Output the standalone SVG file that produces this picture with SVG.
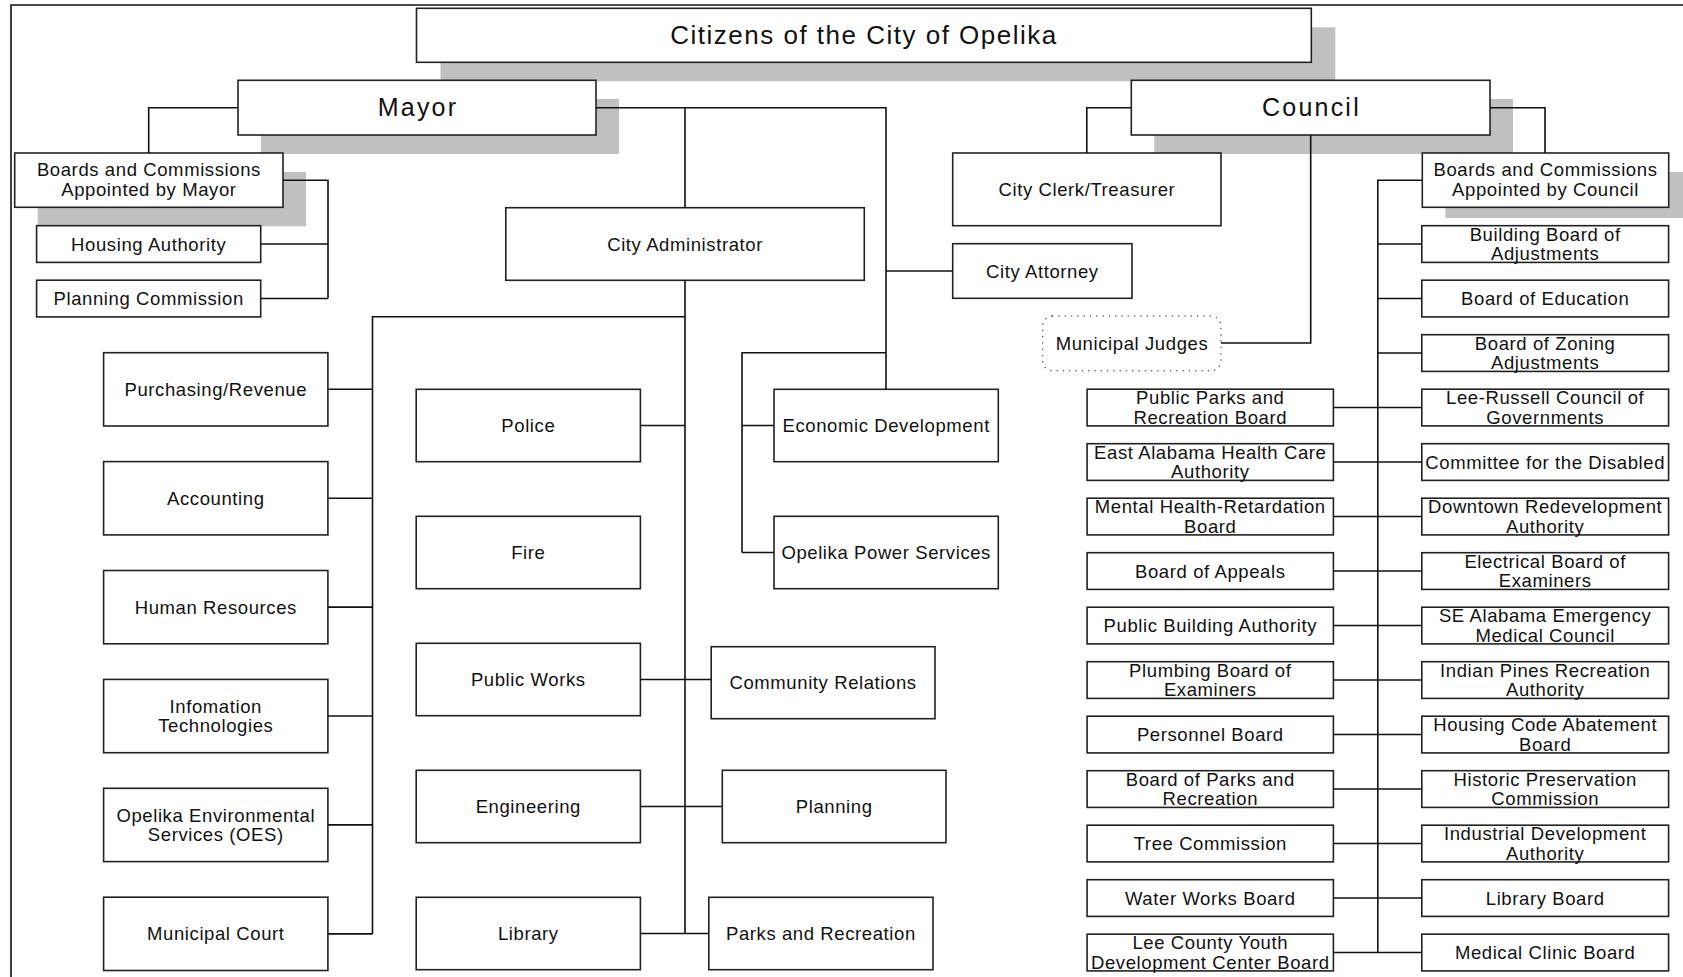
<svg xmlns="http://www.w3.org/2000/svg" width="1683" height="977" viewBox="0 0 1683 977">
<style>
.box{fill:#fff;stroke:#222;stroke-width:1.6}
.sh{fill:#c0c0c0}
.ln{fill:none;stroke:#111;stroke-width:1.6}
.dot{fill:#fff;stroke:#555;stroke-width:1.5;stroke-dasharray:0.1 6.2;stroke-linecap:round}
text{font-family:"Liberation Sans",Arial,sans-serif;fill:#111;text-anchor:middle}
.t{font-size:18.5px;letter-spacing:0.6px}
.big{font-size:25px;letter-spacing:2.2px}
.ttl{font-size:26px;letter-spacing:1.5px}
</style>
<rect width="1683" height="977" fill="#fff"/>
<path class="ln" d="M11,977 V5 H1683"/>
<g id="title">
<rect class="sh" x="440.5" y="27.3" width="894.8" height="54"/>
<rect class="box" x="416.5" y="8.3" width="894.8" height="54"/>
<text class="ttl" x="864" y="44">Citizens of the City of Opelika</text>
</g>
<g id="mayor">
<rect class="sh" x="261" y="99" width="358" height="55"/>
<rect class="box" x="238" y="80.3" width="358" height="54.7"/>
<text class="big" x="418" y="116.3">Mayor</text>
</g>
<g id="council">
<rect class="sh" x="1154.3" y="99" width="358.7" height="55"/>
<rect class="box" x="1131.3" y="80.3" width="358.7" height="54.7"/>
<text class="big" x="1311.5" y="116.3">Council</text>
</g>
<g id="bc-mayor">
<rect class="sh" x="37.7" y="172" width="268.3" height="54.3"/>
<rect class="box" x="14.7" y="153" width="268.3" height="54.3"/>
<text class="t" x="148.9" y="176">Boards and Commissions</text>
<text class="t" x="148.9" y="196">Appointed by Mayor</text>
</g>
<g id="bc-council">
<rect class="sh" x="1445.3" y="172" width="246.4" height="46"/>
<rect class="box" x="1422.3" y="153" width="246.4" height="54.3"/>
<text class="t" x="1545.5" y="176">Boards and Commissions</text>
<text class="t" x="1545.5" y="196">Appointed by Council</text>
</g>
<g id="housing-authority"><rect class="box" x="36.6" y="225.7" width="224.1" height="36.7"/><text class="t" x="148.7" y="250.6">Housing Authority</text></g>
<g id="planning-commission"><rect class="box" x="36.6" y="280.2" width="224.1" height="36.7"/><text class="t" x="148.7" y="305.1">Planning Commission</text></g>
<g id="city-clerk"><rect class="box" x="952.7" y="153" width="268.3" height="72.7"/><text class="t" x="1086.9" y="196">City Clerk/Treasurer</text></g>
<g id="city-administrator"><rect class="box" x="505.8" y="207.7" width="358.5" height="72.6"/><text class="t" x="685.1" y="250.5">City Administrator</text></g>
<g id="city-attorney"><rect class="box" x="952.7" y="243.7" width="179.3" height="54.6"/><text class="t" x="1042.4" y="277.5">City Attorney</text></g>
<g id="municipal-judges"><rect class="dot" x="1042.7" y="316" width="178.3" height="54.7" rx="10"/><text class="t" x="1132" y="350">Municipal Judges</text></g>

<g id="purchasing"><rect class="box" x="103.6" y="352.7" width="224.3" height="73.3"/><text class="t" x="215.8" y="395.9">Purchasing/Revenue</text></g>
<g id="accounting"><rect class="box" x="103.6" y="461.6" width="224.3" height="73.3"/><text class="t" x="215.8" y="504.8">Accounting</text></g>
<g id="human-resources"><rect class="box" x="103.6" y="570.5" width="224.3" height="73.3"/><text class="t" x="215.8" y="613.7">Human Resources</text></g>
<g id="it"><rect class="box" x="103.6" y="679.4" width="224.3" height="73.3"/><text class="t" x="215.8" y="712.5">Infomation</text><text class="t" x="215.8" y="732">Technologies</text></g>
<g id="oes"><rect class="box" x="103.6" y="788.3" width="224.3" height="73.3"/><text class="t" x="215.8" y="821.5">Opelika Environmental</text><text class="t" x="215.8" y="841">Services (OES)</text></g>
<g id="municipal-court"><rect class="box" x="103.6" y="897.2" width="224.3" height="73.3"/><text class="t" x="215.8" y="940.4">Municipal Court</text></g>

<g id="police"><rect class="box" x="416.2" y="389.3" width="224.2" height="72.4"/><text class="t" x="528.3" y="432">Police</text></g>
<g id="fire"><rect class="box" x="416.2" y="516.3" width="224.2" height="72.4"/><text class="t" x="528.3" y="559">Fire</text></g>
<g id="public-works"><rect class="box" x="416.2" y="643.3" width="224.2" height="72.4"/><text class="t" x="528.3" y="686">Public Works</text></g>
<g id="engineering"><rect class="box" x="416.2" y="770.3" width="224.2" height="72.4"/><text class="t" x="528.3" y="813">Engineering</text></g>
<g id="library"><rect class="box" x="416.2" y="897.3" width="224.2" height="72.4"/><text class="t" x="528.3" y="940">Library</text></g>

<g id="economic-development"><rect class="box" x="774" y="389.3" width="224.3" height="72.4"/><text class="t" x="886.2" y="432">Economic Development</text></g>
<g id="opelika-power"><rect class="box" x="774" y="516.3" width="224.3" height="72.4"/><text class="t" x="886.2" y="559">Opelika Power Services</text></g>
<g id="community-relations"><rect class="box" x="711.2" y="646.7" width="223.8" height="72"/><text class="t" x="823.1" y="689.2">Community Relations</text></g>
<g id="planning"><rect class="box" x="722.3" y="770.3" width="223.7" height="72.4"/><text class="t" x="834.2" y="813">Planning</text></g>
<g id="parks-recreation"><rect class="box" x="708.8" y="897.3" width="224.2" height="72.4"/><text class="t" x="820.9" y="940">Parks and Recreation</text></g>

<g id="public-parks-board"><rect class="box" x="1087.1" y="389.2" width="246.3" height="36.7"/><text class="t" x="1210.3" y="404.2">Public Parks and</text><text class="t" x="1210.3" y="423.7">Recreation Board</text></g>
<g id="east-alabama-hca"><rect class="box" x="1087.1" y="443.7" width="246.3" height="36.7"/><text class="t" x="1210.3" y="458.7">East Alabama Health Care</text><text class="t" x="1210.3" y="478.2">Authority</text></g>
<g id="mental-health"><rect class="box" x="1087.1" y="498.2" width="246.3" height="36.7"/><text class="t" x="1210.3" y="513.2">Mental Health-Retardation</text><text class="t" x="1210.3" y="532.7">Board</text></g>
<g id="board-appeals"><rect class="box" x="1087.1" y="552.7" width="246.3" height="36.7"/><text class="t" x="1210.3" y="577.6">Board of Appeals</text></g>
<g id="public-building"><rect class="box" x="1087.1" y="607.2" width="246.3" height="36.7"/><text class="t" x="1210.3" y="632.1">Public Building Authority</text></g>
<g id="plumbing-board"><rect class="box" x="1087.1" y="661.7" width="246.3" height="36.7"/><text class="t" x="1210.3" y="676.7">Plumbing Board of</text><text class="t" x="1210.3" y="696.2">Examiners</text></g>
<g id="personnel-board"><rect class="box" x="1087.1" y="716.2" width="246.3" height="36.7"/><text class="t" x="1210.3" y="741.1">Personnel Board</text></g>
<g id="board-parks"><rect class="box" x="1087.1" y="770.7" width="246.3" height="36.7"/><text class="t" x="1210.3" y="785.7">Board of Parks and</text><text class="t" x="1210.3" y="805.2">Recreation</text></g>
<g id="tree-commission"><rect class="box" x="1087.1" y="825.2" width="246.3" height="36.7"/><text class="t" x="1210.3" y="850.1">Tree Commission</text></g>
<g id="water-works"><rect class="box" x="1087.1" y="879.7" width="246.3" height="36.7"/><text class="t" x="1210.3" y="904.6">Water Works Board</text></g>
<g id="lee-county-youth"><rect class="box" x="1087.1" y="934.2" width="246.3" height="36.7"/><text class="t" x="1210.3" y="949.2">Lee County Youth</text><text class="t" x="1210.3" y="968.7">Development Center Board</text></g>

<g id="building-board"><rect class="box" x="1421.8" y="225.7" width="246.8" height="36.7"/><text class="t" x="1545.2" y="240.7">Building Board of</text><text class="t" x="1545.2" y="260.2">Adjustments</text></g>
<g id="board-education"><rect class="box" x="1421.8" y="280.2" width="246.8" height="36.7"/><text class="t" x="1545.2" y="305.1">Board of Education</text></g>
<g id="board-zoning"><rect class="box" x="1421.8" y="334.7" width="246.8" height="36.7"/><text class="t" x="1545.2" y="349.7">Board of Zoning</text><text class="t" x="1545.2" y="369.2">Adjustments</text></g>
<g id="lee-russell"><rect class="box" x="1421.8" y="389.2" width="246.8" height="36.7"/><text class="t" x="1545.2" y="404.2">Lee-Russell Council of</text><text class="t" x="1545.2" y="423.7">Governments</text></g>
<g id="committee-disabled"><rect class="box" x="1421.8" y="443.7" width="246.8" height="36.7"/><text class="t" x="1545.2" y="468.6">Committee for the Disabled</text></g>
<g id="downtown"><rect class="box" x="1421.8" y="498.2" width="246.8" height="36.7"/><text class="t" x="1545.2" y="513.2">Downtown Redevelopment</text><text class="t" x="1545.2" y="532.7">Authority</text></g>
<g id="electrical-board"><rect class="box" x="1421.8" y="552.7" width="246.8" height="36.7"/><text class="t" x="1545.2" y="567.7">Electrical Board of</text><text class="t" x="1545.2" y="587.2">Examiners</text></g>
<g id="se-alabama"><rect class="box" x="1421.8" y="607.2" width="246.8" height="36.7"/><text class="t" x="1545.2" y="622.2">SE Alabama Emergency</text><text class="t" x="1545.2" y="641.7">Medical Council</text></g>
<g id="indian-pines"><rect class="box" x="1421.8" y="661.7" width="246.8" height="36.7"/><text class="t" x="1545.2" y="676.7">Indian Pines Recreation</text><text class="t" x="1545.2" y="696.2">Authority</text></g>
<g id="housing-code"><rect class="box" x="1421.8" y="716.2" width="246.8" height="36.7"/><text class="t" x="1545.2" y="731.2">Housing Code Abatement</text><text class="t" x="1545.2" y="750.7">Board</text></g>
<g id="historic"><rect class="box" x="1421.8" y="770.7" width="246.8" height="36.7"/><text class="t" x="1545.2" y="785.7">Historic Preservation</text><text class="t" x="1545.2" y="805.2">Commission</text></g>
<g id="industrial"><rect class="box" x="1421.8" y="825.2" width="246.8" height="36.7"/><text class="t" x="1545.2" y="840.2">Industrial Development</text><text class="t" x="1545.2" y="859.7">Authority</text></g>
<g id="library-board"><rect class="box" x="1421.8" y="879.7" width="246.8" height="36.7"/><text class="t" x="1545.2" y="904.6">Library Board</text></g>
<g id="medical-clinic"><rect class="box" x="1421.8" y="934.2" width="246.8" height="36.7"/><text class="t" x="1545.2" y="959.1">Medical Clinic Board</text></g>

<g id="connectors" class="ln">
<path d="M238,107.7 H148.7 V153"/>
<path d="M283,180.3 H328 V298.5 M260.7,244 H328 M260.7,298.5 H328"/>
<path d="M596,107.7 H886 V389.3 M685,107.7 V207.7 M685,280.3 V933.5"/>
<path d="M886,271 H952.7"/>
<path d="M886,352.7 H742 V552.5 M742,425.5 H774 M742,552.5 H774"/>
<path d="M685,316.7 H372.5 V933.9"/>
<path d="M327.9,389.3 H372.5 M327.9,498.3 H372.5 M327.9,607.1 H372.5 M327.9,716 H372.5 M327.9,824.9 H372.5 M327.9,933.9 H372.5"/>
<path d="M640.4,425.5 H685 M640.4,679.5 H711.2 M640.4,806.5 H722.3 M640.4,933.5 H708.8"/>
<path d="M1131.3,107.7 H1086.8 V153"/>
<path d="M1490,107.7 H1545 V153"/>
<path d="M1310.7,135 V343 H1221"/>
<path d="M1422.3,180.3 H1377.8 V952.5"/>
<path d="M1377.8,244 H1421.8 M1377.8,298.5 H1421.8 M1377.8,353 H1421.8"/>
<path d="M1333.4,407.5 H1421.8 M1333.4,462 H1421.8 M1333.4,516.5 H1421.8 M1333.4,571 H1421.8 M1333.4,625.5 H1421.8 M1333.4,680 H1421.8 M1333.4,734.5 H1421.8 M1333.4,789 H1421.8 M1333.4,843.5 H1421.8 M1333.4,898 H1421.8 M1333.4,952.5 H1421.8"/>
</g>
</svg>
